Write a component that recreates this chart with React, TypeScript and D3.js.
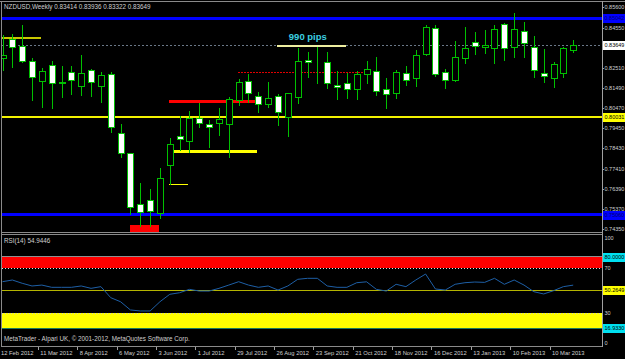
import React from "react";
import * as d3 from "d3";

const W = 625;
const H = 359;

// ---- data (weekly NZDUSD bars, 12 Feb 2012 .. 24 Mar 2013) ----
const opens = [0.83017, 0.8398, 0.8364, 0.82865, 0.81851, 0.82647, 0.8175, 0.82307, 0.81613, 0.82424, 0.81613, 0.82191, 0.792, 0.78187, 0.75632, 0.7582, 0.75176, 0.77594, 0.79048, 0.78825, 0.79961, 0.79672, 0.79707, 0.79657, 0.80888, 0.81851, 0.81106, 0.8067, 0.81106, 0.80011, 0.81025, 0.82916, 0.82945, 0.82829, 0.81633, 0.81735, 0.81461, 0.82206, 0.82373, 0.81431, 0.81258, 0.82242, 0.82019, 0.83205, 0.84538, 0.82323, 0.81902, 0.83002, 0.83843, 0.83559, 0.83509, 0.84725, 0.8359, 0.84385, 0.8359, 0.82272, 0.81988, 0.82272, 0.83414];
const highs = [0.84183, 0.84233, 0.8469, 0.83002, 0.82525, 0.82865, 0.82611, 0.82611, 0.83169, 0.82459, 0.82323, 0.82323, 0.79672, 0.78217, 0.76666, 0.76393, 0.77427, 0.78947, 0.80077, 0.80346, 0.80721, 0.79875, 0.80468, 0.81025, 0.81937, 0.82206, 0.81309, 0.81816, 0.81192, 0.8125, 0.83509, 0.83336, 0.8359, 0.83336, 0.82358, 0.82242, 0.82373, 0.82865, 0.83052, 0.81988, 0.82409, 0.82627, 0.83422, 0.8469, 0.8469, 0.82444, 0.83894, 0.84573, 0.8435, 0.84436, 0.8469, 0.84806, 0.85283, 0.84857, 0.84132, 0.83473, 0.82829, 0.8359, 0.83936];
const lows = [0.82409, 0.82576, 0.82814, 0.80888, 0.80549, 0.80498, 0.81055, 0.81177, 0.81142, 0.81091, 0.80802, 0.79282, 0.78014, 0.7511, 0.74502, 0.74502, 0.74892, 0.76616, 0.78354, 0.78268, 0.79505, 0.78521, 0.79114, 0.78014, 0.80635, 0.80802, 0.80295, 0.80549, 0.79621, 0.79079, 0.80751, 0.82039, 0.81765, 0.81481, 0.80939, 0.81005, 0.80939, 0.81735, 0.81142, 0.80468, 0.80974, 0.81649, 0.81613, 0.83169, 0.82105, 0.81481, 0.81851, 0.82779, 0.83205, 0.83255, 0.82748, 0.82916, 0.83052, 0.83083, 0.82069, 0.81816, 0.81532, 0.82069, 0.83322];
const closes = [0.83169, 0.83559, 0.82865, 0.82069, 0.82373, 0.81765, 0.81801, 0.81917, 0.82257, 0.81785, 0.82155, 0.79505, 0.78187, 0.7545, 0.75227, 0.75262, 0.7692, 0.78658, 0.78927, 0.79961, 0.79707, 0.79505, 0.7991, 0.80924, 0.81816, 0.81258, 0.8067, 0.81005, 0.80265, 0.81228, 0.8285, 0.82829, 0.8296, 0.81735, 0.81547, 0.81461, 0.82206, 0.82444, 0.8136, 0.81177, 0.82292, 0.81902, 0.83169, 0.84573, 0.82206, 0.81902, 0.83083, 0.83539, 0.83625, 0.83676, 0.84472, 0.83509, 0.84472, 0.83762, 0.82409, 0.8212, 0.82698, 0.83509, 0.83649];
const rsiValues = [58, 59.5, 56.6, 54.2, 55, 53, 53, 53, 54.2, 52.1, 53.6, 43.8, 40.2, 32.9, 32, 32, 40.2, 46.8, 48.2, 51.2, 49.7, 49.7, 52.1, 55, 58, 55, 53, 54.2, 50.6, 54.2, 60.1, 61, 61, 54.2, 53, 53, 57.1, 57.9, 51.2, 49.7, 55.7, 53.6, 59.5, 64.8, 51.5, 50.6, 55.7, 57.1, 57.7, 57.4, 61, 55.7, 59.5, 55, 49.1, 47.1, 50, 53.6, 54.94];

const dateLabels = ["12 Feb 2012", "11 Mar 2012", "8 Apr 2012", "6 May 2012", "3 Jun 2012", "1 Jul 2012", "29 Jul 2012", "26 Aug 2012", "23 Sep 2012", "21 Oct 2012", "18 Nov 2012", "16 Dec 2012", "13 Jan 2013", "10 Feb 2013", "10 Mar 2013"];
const dateLabelBars = [0, 4, 8, 12, 16, 20, 24, 28, 32, 36, 40, 44, 48, 52, 56];

const priceTicks = [0.856, 0.8455, 0.8251, 0.8149, 0.8047, 0.7945, 0.7843, 0.7741, 0.7639, 0.7537, 0.7435];
const rsiTicks = [100, 70, 30, 0];

const blueLevels = [0.85042, 0.7506];
const yellowLevel = 0.80031;
const bidPrice = 0.83649;

// drawn objects: bar index from/to and price
const segFrom = [-0.05, 27.9, 23.9, 16.9, 17.3, 16.9];
const segTo = [3.91, 34.9, 37.35, 25.66, 25.9, 18.9];
const segPrice = [0.84046, 0.8364, 0.82292, 0.80812, 0.78278, 0.76616];
const boxFrom = [12.96];
const boxTo = [15.9];
const boxTop = [0.74553];
const boxBottom = [0.742];

const rsiRedBand = [80, 70];
const rsiYellowBand = [30, 16.933];
const rsiMidLevel = 50.2649;

const segStyles = [
  { stroke: "#c8c800", w: 2, dash: "" },
  { stroke: "#eeeea0", w: 2, dash: "" },
  { stroke: "#e00000", w: 1, dash: "2,1" },
  { stroke: "#ff0000", w: 3, dash: "" },
  { stroke: "#ffff00", w: 3, dash: "" },
  { stroke: "#ffff00", w: 1.5, dash: "" },
];

const FONT = "'Liberation Sans', Arial, sans-serif";
const GREEN = "#00c000";
const TXT = "#d0d0d0";
const AXIS_X = 602;
const AXIS_FS = 5.5;

export default function App() {
  const n = closes.length;
  const x = d3.scaleLinear().domain([0, 58]).range([2.5, 573.2]);
  const y = d3.scaleLinear().domain([0.7435, 0.856]).range([229, 7]);
  const yr = d3.scaleLinear().domain([0, 100]).range([347, 234.4]);
  const fmt = d3.format(".5f");

  const rsiLine = d3
    .line<number>()
    .x((_, i) => x(i))
    .y((v) => yr(v))(rsiValues) as string;

  const box = (yc: number, bg: string, fg: string, label: string, key: string) => (
    <g key={key}>
      <rect x={AXIS_X + 1} y={Math.round(yc) - 4.5} width={24} height={9} fill={bg} />
      <text x={AXIS_X + 2.5} y={yc} dy="0.35em" fontSize={AXIS_FS} fill={fg} fontFamily={FONT}>
        {label}
      </text>
    </g>
  );

  return (
    <svg
      width={W}
      height={H}
      style={{ position: "fixed", left: 0, top: 0, background: "#000" }}
      shapeRendering="crispEdges"
    >
      <rect x={0} y={0} width={W} height={H} fill="#000" />
      <defs>
        <clipPath id="mainClip">
          <rect x={2} y={2} width={AXIS_X - 2} height={230} />
        </clipPath>
        <clipPath id="rsiClip">
          <rect x={2} y={235} width={AXIS_X - 2} height={111} />
        </clipPath>
      </defs>

      {/* frames */}
      <line x1={0} x2={W} y1={1.5} y2={1.5} stroke="#8a8a8a" />
      <line x1={1.5} x2={1.5} y1={1} y2={347} stroke="#8a8a8a" />
      <line x1={AXIS_X + 0.5} x2={AXIS_X + 0.5} y1={1} y2={347} stroke="#a0a0a0" />
      <line x1={1} x2={AXIS_X} y1={232.5} y2={232.5} stroke="#8a8a8a" />
      <line x1={1} x2={AXIS_X} y1={234.5} y2={234.5} stroke="#8a8a8a" />
      <line x1={1} x2={AXIS_X} y1={346.5} y2={346.5} stroke="#8a8a8a" />

      {/* main panel */}
      <g clipPath="url(#mainClip)">
        {boxFrom.map((b, i) => (
          <rect
            key={"bx" + i}
            x={x(b)}
            y={y(boxTop[i])}
            width={x(boxTo[i]) - x(b)}
            height={y(boxBottom[i]) - y(boxTop[i])}
            fill="#ff0000"
          />
        ))}
        <line x1={2} x2={AXIS_X} y1={y(bidPrice)} y2={y(bidPrice)} stroke="#6a7888" strokeDasharray="2,2" />
        <line x1={2} x2={AXIS_X} y1={y(yellowLevel)} y2={y(yellowLevel)} stroke="#f2f200" strokeWidth={2} />
        {blueLevels.map((p, i) => (
          <line key={"bl" + i} x1={2} x2={AXIS_X} y1={y(p)} y2={y(p)} stroke="#0000ff" strokeWidth={3} />
        ))}
        {segFrom.map((s, i) => (
          <line
            key={"sg" + i}
            x1={x(s)}
            x2={x(segTo[i])}
            y1={y(segPrice[i])}
            y2={y(segPrice[i])}
            stroke={segStyles[i].stroke}
            strokeWidth={segStyles[i].w}
            strokeDasharray={segStyles[i].dash}
          />
        ))}
        {d3.range(n).map((i) => {
          const cx = Math.round(x(i));
          const yo = Math.round(y(opens[i]));
          const yc = Math.round(y(closes[i]));
          const bear = closes[i] < opens[i];
          const top = Math.min(yo, yc);
          const bot = Math.max(yo, yc);
          return (
            <g key={"c" + i}>
              <line
                x1={cx + 0.5}
                x2={cx + 0.5}
                y1={Math.round(y(highs[i]))}
                y2={Math.round(y(lows[i])) + 1}
                stroke={GREEN}
              />
              <rect
                x={cx - 3 + 0.5}
                y={top + 0.5}
                width={6}
                height={Math.max(bot - top, 0)}
                fill={bear ? "#ffffff" : "#000000"}
                stroke={GREEN}
              />
            </g>
          );
        })}
        <text
          x={x(29.1)}
          y={y(0.8395)}
          fontSize={9.5}
          fontWeight="bold"
          fill="#3ccfe0"
          fontFamily={FONT}
          shapeRendering="auto"
        >
          990 pips
        </text>
      </g>

      {/* header */}
      <text x={4} y={8.5} fontSize={6.3} fill={TXT} fontFamily={FONT}>
        NZDUSD,Weekly  0.83414 0.83936 0.83322 0.83649
      </text>

      {/* price axis */}
      {priceTicks.map((p, i) => (
        <g key={"pt" + i}>
          <line x1={AXIS_X} x2={AXIS_X + 2} y1={Math.round(y(p)) + 0.5} y2={Math.round(y(p)) + 0.5} stroke="#a0a0a0" />
          <text x={AXIS_X + 2.5} y={y(p)} dy="0.35em" fontSize={AXIS_FS} fill={TXT} fontFamily={FONT}>
            {fmt(p)}
          </text>
        </g>
      ))}
      {box(y(blueLevels[0]), "#0000ff", "#000070", fmt(blueLevels[0]), "b0")}
      {box(y(bidPrice), "#ffffff", "#000000", fmt(bidPrice), "bid")}
      {box(y(yellowLevel), "#ffff00", "#000000", fmt(yellowLevel), "yl")}
      {box(y(blueLevels[1]), "#0000ff", "#000070", fmt(blueLevels[1]), "b1")}

      {/* RSI panel */}
      <g clipPath="url(#rsiClip)">
        <rect x={2} y={yr(rsiRedBand[0])} width={AXIS_X - 2} height={yr(rsiRedBand[1]) - yr(rsiRedBand[0])} fill="#ff0000" />
        <rect x={2} y={yr(rsiYellowBand[0])} width={AXIS_X - 2} height={yr(rsiYellowBand[1]) - yr(rsiYellowBand[0])} fill="#ffff00" />
        <line x1={2} x2={AXIS_X} y1={Math.round(yr(80)) - 0.5} y2={Math.round(yr(80)) - 0.5} stroke="#909090" />
        <line x1={2} x2={AXIS_X} y1={Math.round(yr(70)) + 0.5} y2={Math.round(yr(70)) + 0.5} stroke="#e0e0e0" strokeDasharray="1,2" />
        <line x1={2} x2={AXIS_X} y1={Math.round(yr(30)) + 0.5} y2={Math.round(yr(30)) + 0.5} stroke="#c8c8c8" strokeDasharray="1,2" />
        <line x1={2} x2={AXIS_X} y1={Math.round(yr(rsiYellowBand[1])) + 0.5} y2={Math.round(yr(rsiYellowBand[1])) + 0.5} stroke="#1f7a5a" strokeWidth={1.5} />
        <line x1={2} x2={AXIS_X} y1={Math.round(yr(rsiMidLevel)) + 0.5} y2={Math.round(yr(rsiMidLevel)) + 0.5} stroke="#b4b400" />
        <path d={rsiLine} fill="none" stroke="#1e5fa6" strokeWidth={1} shapeRendering="auto" />
      </g>
      <text x={4} y={242.5} fontSize={6.3} fill={TXT} fontFamily={FONT}>
        RSI(14) 54.9446
      </text>
      {rsiTicks.map((v, i) => (
        <text
          key={"rt" + i}
          x={AXIS_X + 2.5}
          y={Math.min(Math.max(yr(v), 238), 343)}
          dy="0.35em"
          fontSize={AXIS_FS}
          fill={TXT}
          fontFamily={FONT}
        >
          {v}
        </text>
      ))}
      {box(yr(80), "#00e0f0", "#000000", "80.0000", "r80")}
      {box(yr(rsiMidLevel), "#ffff00", "#000000", "50.2649", "r50")}
      {box(yr(rsiYellowBand[1]), "#00e0f0", "#000000", "16.9330", "r16")}

      <text x={4} y={341} fontSize={6.3} fill={TXT} fontFamily={FONT}>
        MetaTrader - Alpari UK, © 2001-2012, MetaQuotes Software Corp.
      </text>

      {/* time axis */}
      {dateLabels.map((d, i) => {
        const bx = x(dateLabelBars[i]);
        return (
          <g key={"dl" + i}>
            <line x1={Math.round(bx) - 3.5} x2={Math.round(bx) - 3.5} y1={347} y2={350} stroke="#a0a0a0" />
            <text x={bx - 1.5} y={355} fontSize={5.8} fill={TXT} fontFamily={FONT}>
              {d}
            </text>
          </g>
        );
      })}
    </svg>
  );
}
